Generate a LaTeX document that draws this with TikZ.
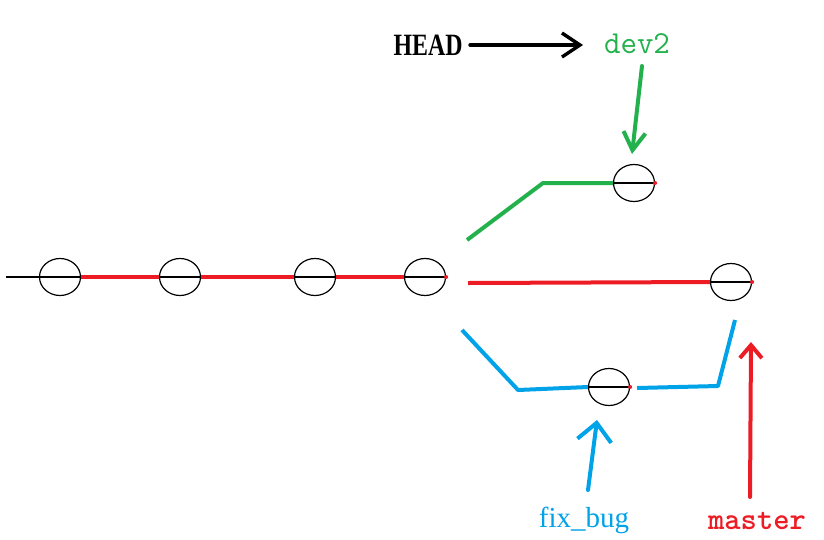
\documentclass[tikz,border=0pt]{standalone}
\usepackage{fontspec}
\newfontfamily\serfont{Liberation Serif}
\usetikzlibrary{shapes.geometric,arrows.meta}
\definecolor{pred}{HTML}{ED1C24}
\definecolor{pgreen}{HTML}{22B14C}
\definecolor{pblue}{HTML}{00A2E8}
\tikzset{
  commit/.style={ellipse,draw=black,line width=1.2pt,minimum width=41pt,minimum height=37pt,inner sep=0pt},
  diam/.style={black,line width=1.4pt},
  branch/.style={line width=4pt},
  ptr/.style={line width=4pt,line cap=round},
  tip/.style={circle,fill=pred,inner sep=0pt,minimum size=4pt}
}
\begin{document}
\begin{tikzpicture}[x=1pt,y=-1pt]
\useasboundingbox (0,0) rectangle (824,539);
% commits
\node[commit] (c1) at (60,277) {};
\node[commit] (c2) at (180,277) {};
\node[commit] (c3) at (315,277) {};
\node[commit] (c4) at (425,277) {};
\node[commit] (cd) at (634,183) {};
\node[commit] (cm) at (731,282) {};
\node[commit] (cf) at (609,387) {};
\coordinate (s0) at (6,277);
\draw[diam] (s0) -- (c1.west);
\foreach \c in {c1,c2,c3,c4,cd,cm,cf} {\draw[diam] (\c.west) -- (\c.east);}
\foreach \c in {c4,cd,cm,cf} {\node[tip] at (\c.east) {};}
% red main history
\draw[branch,pred] (c1.east) -- (c2.west);
\draw[branch,pred] (c2.east) -- (c3.west);
\draw[branch,pred] (c3.east) -- (c4.west);
% branches
\coordinate (g0) at (467,240);
\coordinate (g1) at (543,183);
\draw[branch,pgreen,line join=round] (g0) -- (g1) -- (cd.west);
\coordinate (r0) at (468,283);
\draw[branch,pred] (r0) -- (cm.west);
\coordinate (b0) at (462,330);
\coordinate (b1) at (518,390);
\draw[branch,pblue,line join=round] (b0) -- (b1) -- (cf.west);
\coordinate (b2) at (637,388);
\coordinate (b3) at (718,386);
\coordinate (b4) at (735,320);
\draw[branch,pblue,line join=round] (b2) -- (b3) -- (b4);
% labels
\node[font=\serfont\bfseries\fontsize{31}{31}\selectfont,xscale=0.77,transform shape,inner sep=0pt] (head) at (428,45) {HEAD};
\node[font=\ttfamily\fontsize{32}{32}\selectfont,text=pgreen,inner sep=0pt] (dev) at (637,44) {dev2};
\node[font=\serfont\fontsize{29}{29}\selectfont,text=pblue,inner sep=0pt,anchor=base] (fix) at (584,527) {fix\_bug};
\node[font=\ttfamily\bfseries\fontsize{31}{31}\selectfont,text=pred,inner sep=0pt,anchor=base] (mas) at (757,529) {master};
% pointers
\coordinate (ha) at (470,45);
\coordinate (hb) at (583,45);
\draw[ptr,black,line width=3.4pt,-{Straight Barb[length=18pt,width=24pt,line width=3.4pt]}] (ha) -- (hb);
\coordinate (da) at (642,66);
\coordinate (db) at (632,154);
\draw[ptr,pgreen,-{Straight Barb[length=18pt,width=22pt,line width=4pt]}] (da) -- (db);
\coordinate (fa) at (588,490);
\coordinate (fb) at (597,420);
\draw[ptr,pblue,-{Straight Barb[length=18pt,width=34pt,line width=4pt]}] (fa) -- (fb);
\coordinate (ma) at (750,497);
\coordinate (mb) at (751,342);
\draw[ptr,pred,-{Straight Barb[length=13pt,width=22pt,line width=4pt]}] (ma) -- (mb);
\end{tikzpicture}
\end{document}
